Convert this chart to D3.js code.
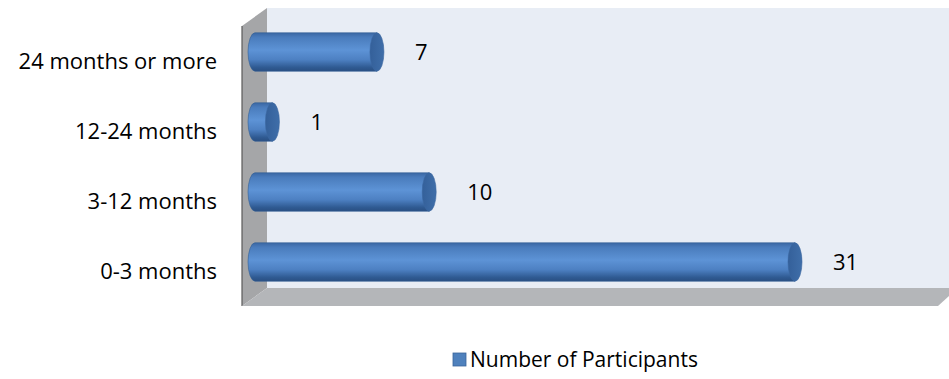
<!DOCTYPE html>
<html>
<head>
<meta charset="utf-8">
<script src="https://cdn.jsdelivr.net/npm/d3@7"></script>
<style>
  html, body { margin: 0; padding: 0; background: #ffffff; }
  svg { display: block; font-family: "Open Sans", sans-serif; }
</style>
</head>
<body>
<svg id="chart" width="949" height="379"></svg>
<script>
// Duration categories (top to bottom) and participant counts
const categories = ["24 months or more", "12-24 months", "3-12 months", "0-3 months"];
const participants = [7, 1, 10, 31];
const seriesName = "Number of Participants";

const svg = d3.select("#chart");
const W = 949;
const FONT = "'Open Sans', sans-serif";

// 3D box geometry: back wall, left wall and floor
const depthX = 25, depthY = 18;
const front = { left: 242, top: 26, bottom: 306 };
const back = { left: front.left + depthX, top: front.top - depthY, bottom: front.bottom - depthY, right: W };

const defs = svg.append("defs");
const grad = defs.append("linearGradient").attr("id", "cyl").attr("x1", 0).attr("y1", 0).attr("x2", 0).attr("y2", 1);
[["0%", "#3b67a3"], ["12%", "#4a7cbc"], ["45%", "#5d93d6"], ["70%", "#4d80c2"], ["90%", "#2f5a92"], ["100%", "#2a4f82"]]
  .forEach(([o, c]) => grad.append("stop").attr("offset", o).attr("stop-color", c));
const capGrad = defs.append("linearGradient").attr("id", "cap").attr("x1", 0).attr("y1", 0).attr("x2", 1).attr("y2", 0);
[["0%", "#34609a"], ["100%", "#3f6ea9"]].forEach(([o, c]) => capGrad.append("stop").attr("offset", o).attr("stop-color", c));

// back wall
svg.append("rect")
  .attr("x", back.left).attr("y", back.top)
  .attr("width", back.right - back.left).attr("height", back.bottom - back.top)
  .attr("fill", "#e8edf5");

// left wall
svg.append("path")
  .attr("d", `M${front.left},${front.top} L${back.left},${back.top} L${back.left},${back.bottom} L${front.left},${front.bottom} Z`)
  .attr("fill", "#a5a6a8");
svg.append("line")
  .attr("x1", front.left).attr("x2", front.left)
  .attr("y1", front.top).attr("y2", front.bottom)
  .attr("stroke", "#5a5a5a").attr("stroke-width", 1.2);

// floor
svg.append("path")
  .attr("d", `M${front.left},${front.bottom} L${back.left},${back.bottom} L${W},${back.bottom} L${W},${back.bottom + 8} L${W - 11},${front.bottom} Z`)
  .attr("fill", "#b4b6b9");

// scales
const x = d3.scaleLinear().domain([0, 31]).range([255, 795]);
const y = d3.scaleBand().domain(categories).range([back.top + 9, back.bottom + 9]).paddingInner(0.45).paddingOuter(0.225);
const rx = 7;

const bars = svg.append("g").selectAll("g")
  .data(categories.map((c, i) => ({ c, v: participants[i] })))
  .join("g");

bars.append("path")
  .attr("d", d => {
    const y0 = y(d.c), h = y.bandwidth(), x0 = x(0), x1 = x(d.v);
    return `M${x0},${y0} L${x1},${y0} L${x1},${y0 + h} L${x0},${y0 + h} A${rx},${h / 2} 0 0 1 ${x0},${y0} Z`;
  })
  .attr("fill", "url(#cyl)")
  .attr("stroke", "#335f96").attr("stroke-width", 0.6);

bars.append("ellipse")
  .attr("cx", d => x(d.v))
  .attr("cy", d => y(d.c) + y.bandwidth() / 2)
  .attr("rx", rx).attr("ry", y.bandwidth() / 2)
  .attr("fill", "url(#cap)")
  .attr("stroke", "#3a679f").attr("stroke-width", 0.6);

// value labels
bars.append("text")
  .attr("x", d => x(d.v) + rx + 31)
  .attr("y", d => y(d.c) + y.bandwidth() / 2)
  .attr("dy", "0.35em")
  .attr("font-size", 22)
  .attr("fill", "#000")
  .text(d => d.v);

// category axis labels on the front plane
const yFront = d3.scaleBand().domain(categories).range([front.top, front.bottom]);
const axis = d3.axisLeft(yFront).tickSize(0).tickPadding(0);
const ax = svg.append("g").attr("transform", "translate(217,1)").call(axis);
ax.select(".domain").remove();
ax.selectAll("text").attr("font-size", 22).attr("fill", "#000").attr("font-family", FONT);

// legend
const lg = svg.append("g").attr("transform", "translate(453,353)");
lg.append("rect").attr("width", 13).attr("height", 13).attr("fill", "#4f81bd").attr("stroke", "#3a659c").attr("stroke-width", 0.8);
lg.append("text").attr("x", 17).attr("y", 7).attr("dy", "0.35em").attr("font-size", 21).attr("fill", "#000").text(seriesName);
</script>
</body>
</html>
